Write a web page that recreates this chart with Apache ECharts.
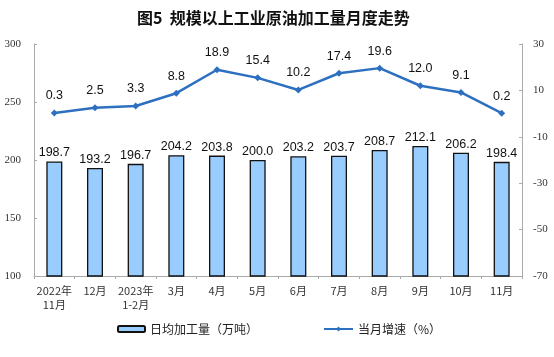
<!DOCTYPE html>
<html><head><meta charset="utf-8">
<script src="https://cdn.jsdelivr.net/npm/echarts@6/dist/echarts.min.js"></script>
<style>html,body{margin:0;padding:0;background:#fff}#c{width:554px;height:357px}</style>
</head><body><div id="c"></div>
<script>
var categories = ['2022年\n11月','12月','2023年\n1-2月','3月','4月','5月','6月','7月','8月','9月','10月','11月'];
var dailyOutput = [198.7,193.2,196.7,204.2,203.8,200.0,203.2,203.7,208.7,212.1,206.2,198.4];
var growth = [0.3,2.5,3.3,8.8,18.9,15.4,10.2,17.4,19.6,12.0,9.1,0.2];
var leftTicks = [100,300,50];
var rightTicks = [-70,30,20];
var axisFontSerif = '"Liberation Serif","DejaVu Serif",serif';
var cjk = '"Noto Sans CJK SC","Noto Sans",sans-serif';
var chart = echarts.init(document.getElementById('c'));
chart.setOption({
  animation:false,
  title:{text:'图5  规模以上工业原油加工量月度走势',left:132,top:5,textStyle:{fontFamily:cjk,fontSize:16,fontWeight:'bold',color:'#111'}},
  legend:[
    {data:['日均加工量（万吨）'],left:112,top:318,itemWidth:27,itemHeight:6,itemGap:4,textStyle:{fontFamily:cjk,fontSize:12,color:'#222'}},
    {data:['当月增速（%）'],left:318,top:318,itemWidth:29,itemHeight:6,itemGap:2,textStyle:{fontFamily:cjk,fontSize:12,color:'#222'}}
  ],
  grid:{left:34,right:32,top:44,bottom:81,containLabel:false},
  xAxis:{type:'category',data:categories,
    axisLine:{onZero:false,lineStyle:{color:'#aaa',width:1}},
    axisTick:{show:true,inside:false,length:3,lineStyle:{color:'#aaa'}},
    axisLabel:{fontFamily:cjk,fontSize:11,color:'#333',margin:8,lineHeight:14,interval:0}},
  yAxis:[
    {type:'value',min:leftTicks[0],max:leftTicks[1],interval:leftTicks[2],splitLine:{show:false},
     axisLine:{show:true,lineStyle:{color:'#aaa'}},axisTick:{show:true,inside:true,length:3,lineStyle:{color:'#aaa'}},
     axisLabel:{fontFamily:axisFontSerif,fontSize:11,color:'#333',margin:13}},
    {type:'value',min:rightTicks[0],max:rightTicks[1],interval:rightTicks[2],splitLine:{show:false},
     axisLine:{show:true,lineStyle:{color:'#aaa'}},axisTick:{show:true,inside:true,length:3,lineStyle:{color:'#aaa'}},
     axisLabel:{fontFamily:axisFontSerif,fontSize:11,color:'#333',margin:11}}
  ],
  series:[
    {name:'日均加工量（万吨）',type:'bar',data:dailyOutput,barWidth:16,yAxisIndex:0,
     itemStyle:{color:'#99CCFF',borderColor:'#111',borderWidth:1.3},
     label:{show:true,position:'top',distance:2,fontFamily:'"Liberation Sans",Arial,sans-serif',fontSize:12.5,color:'#111',
       formatter:function(p){return p.value.toFixed(1);}}},
    {name:'当月增速（%）',type:'line',data:growth,yAxisIndex:1,symbol:'diamond',symbolSize:7,
     lineStyle:{color:'#2E70C0',width:2.5},itemStyle:{color:'#2E70C0'},
     label:{show:true,position:'top',distance:7,fontFamily:'"Liberation Sans",Arial,sans-serif',fontSize:12.5,color:'#111',
       formatter:function(p){return p.value.toFixed(1);}}}
  ]
});
</script></body></html>
